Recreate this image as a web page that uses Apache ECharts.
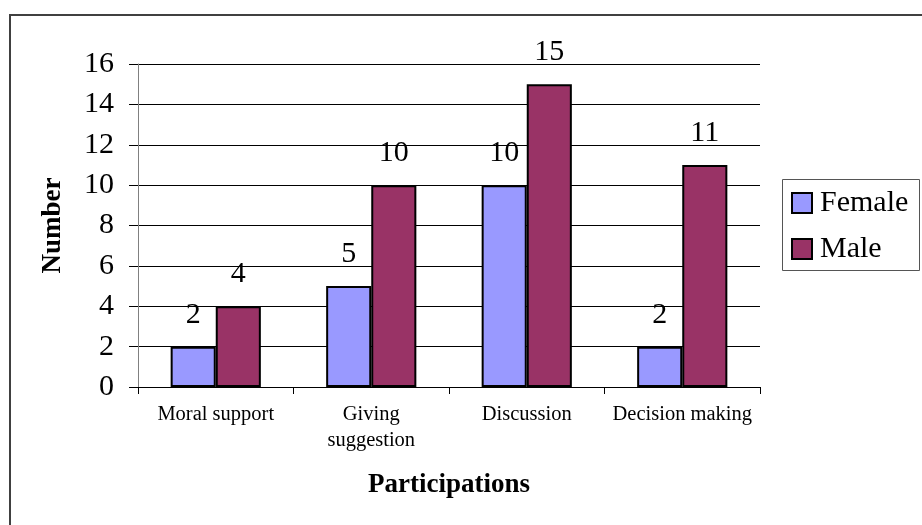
<!DOCTYPE html>
<html>
<head>
<meta charset="utf-8">
<script src="https://cdn.jsdelivr.net/npm/echarts@6/dist/echarts.min.js"></script>
<style>
html,body{margin:0;padding:0;background:#fff;}
#chart{width:922px;height:525px;}
</style>
</head>
<body>
<div id="chart"></div>
<script>
const categories = ['Moral support', 'Giving\nsuggestion', 'Discussion', 'Decision making'];
const femaleValues = [2, 5, 10, 2];
const maleValues = [4, 10, 15, 11];
const yTicks = { min: 0, max: 16, interval: 2 };

const FONT = "'Liberation Serif', 'Times New Roman', serif";
const chart = echarts.init(document.getElementById('chart'));

const labelStyle = {
  show: true, position: 'top', distance: 17,
  fontFamily: FONT, fontSize: 30, color: '#000'
};

chart.setOption({
  animation: false,
  backgroundColor: '#fff',
  textStyle: { fontFamily: FONT },
  graphic: [
    { type: 'rect', shape: { x: 10, y: 15, width: 1000, height: 1000 },
      style: { fill: 'none', stroke: '#404040', lineWidth: 2 }, z: 100 },
    { type: 'rect', shape: { x: 782.5, y: 179.5, width: 137, height: 91 },
      style: { fill: 'none', stroke: '#555', lineWidth: 1 }, z: 100 }
  ],
  legend: {
    orient: 'vertical',
    left: 791, top: 188,
    padding: 0,
    itemWidth: 20, itemHeight: 20, itemGap: 16,
    icon: 'rect',
    textStyle: { fontFamily: FONT, fontSize: 30, color: '#000', lineHeight: 30, padding: [0, 0, 0, 3] },
    data: ['Female', 'Male']
  },
  grid: { left: 138, right: 162, top: 64, bottom: 138, containLabel: false },
  xAxis: {
    type: 'category',
    data: categories,
    name: 'Participations',
    nameLocation: 'middle',
    nameGap: 85,
    nameTextStyle: { fontFamily: FONT, fontSize: 27, fontWeight: 'bold', color: '#000' },
    axisLine: { lineStyle: { color: '#000', width: 1 } },
    axisTick: { show: true, length: 7, lineStyle: { color: '#000' } },
    axisLabel: { fontFamily: FONT, fontSize: 20.5, color: '#000', margin: 15, lineHeight: 26, interval: 0 }
  },
  yAxis: {
    type: 'value',
    min: yTicks.min, max: yTicks.max, interval: yTicks.interval,
    name: 'Number',
    nameLocation: 'middle',
    nameGap: 71,
    nameTextStyle: { fontFamily: FONT, fontSize: 27, fontWeight: 'bold', color: '#000' },
    axisLine: { show: true, lineStyle: { color: '#808080', width: 1 } },
    axisTick: { show: true, length: 9, lineStyle: { color: '#000' } },
    axisLabel: { fontFamily: FONT, fontSize: 30, color: '#000', margin: 24 },
    splitLine: { show: true, lineStyle: { color: '#000', width: 1 } }
  },
  series: [
    { name: 'Female', type: 'bar', data: femaleValues,
      barGap: '0%', barCategoryGap: '42%',
      itemStyle: { color: '#9999FF', borderColor: '#000', borderWidth: 2 },
      label: labelStyle },
    { name: 'Male', type: 'bar', data: maleValues,
      itemStyle: { color: '#993366', borderColor: '#000', borderWidth: 2 },
      label: labelStyle }
  ]
});
</script>
</body>
</html>
